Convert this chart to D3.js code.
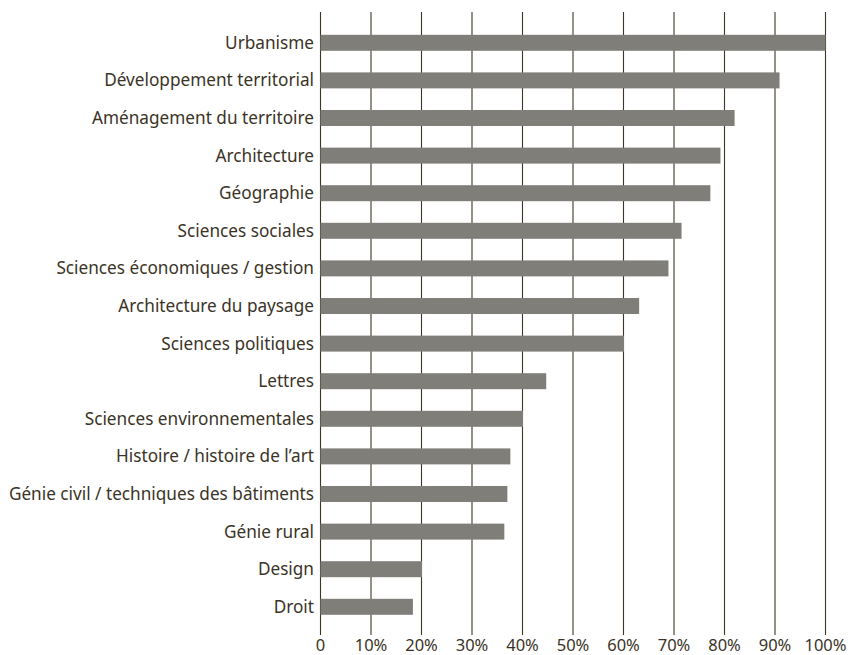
<!DOCTYPE html>
<html>
<head>
<meta charset="utf-8">
<script src="https://cdn.jsdelivr.net/npm/d3@7"></script>
<style>
    body { margin: 0; background: #fff; }
    svg text { font-family: "Noto Sans", sans-serif; fill: #3a3326; }
</style>
</head>
<body>
<svg id="chart" width="851" height="655"></svg>
<script>
const categories = [
    'Urbanisme', 'Développement territorial', 'Aménagement du territoire', 'Architecture',
    'Géographie', 'Sciences sociales', 'Sciences économiques / gestion', 'Architecture du paysage',
    'Sciences politiques', 'Lettres', 'Sciences environnementales', 'Histoire / histoire de l’art',
    'Génie civil / techniques des bâtiments', 'Génie rural', 'Design', 'Droit'
];
const values = [100, 90.9, 82.0, 79.2, 77.2, 71.5, 68.9, 63.1, 60.1, 44.7, 40.1, 37.6, 37.0, 36.4, 20.1, 18.3];
const ticks = [0, 10, 20, 30, 40, 50, 60, 70, 80, 90, 100];
const tickLabels = ['0', '10%', '20%', '30%', '40%', '50%', '60%', '70%', '80%', '90%', '100%'];

const svg = d3.select('#chart');

const x = d3.scaleLinear().domain([0, 100]).range([320.5, 825.5]);
const y = d3.scaleBand().domain(categories).range([24, 625.6])
    .paddingInner(0.575).paddingOuter(0.2875);

// vertical grid lines
svg.append('g').selectAll('line')
    .data(ticks)
    .enter().append('line')
    .attr('x1', d => x(d)).attr('x2', d => x(d))
    .attr('y1', 12).attr('y2', 635)
    .attr('stroke', '#3d3627')
    .attr('stroke-width', 1.1);

// bars
svg.append('g').selectAll('rect')
    .data(values)
    .enter().append('rect')
    .attr('x', x(0))
    .attr('y', (d, i) => y(categories[i]))
    .attr('width', d => x(d) - x(0))
    .attr('height', y.bandwidth())
    .attr('fill', '#7f7e78');

// category labels
svg.append('g').selectAll('text')
    .data(categories)
    .enter().append('text')
    .attr('x', 314)
    .attr('y', d => y(d) + y.bandwidth() / 2)
    .attr('dy', '0.35em')
    .attr('text-anchor', 'end')
    .style('font-size', '17.2px')
    .text(d => d);

// tick labels
svg.append('g').selectAll('text')
    .data(ticks)
    .enter().append('text')
    .attr('x', d => x(d))
    .attr('y', 651)
    .attr('text-anchor', 'middle')
    .style('font-size', '16.5px')
    .text((d, i) => tickLabels[i]);
</script>
</body>
</html>
